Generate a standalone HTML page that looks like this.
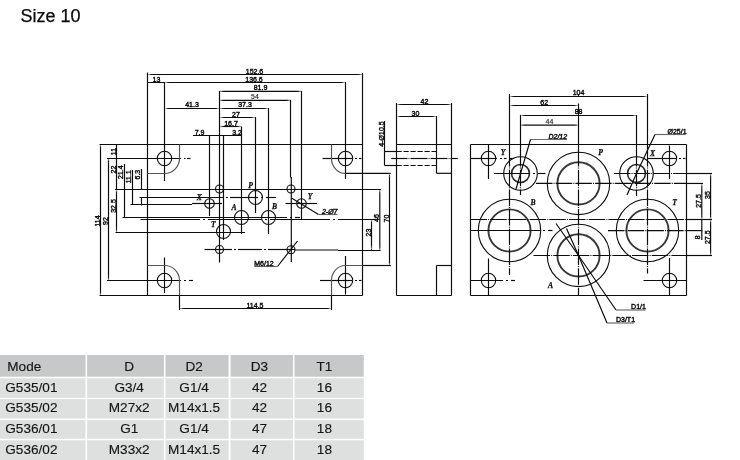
<!DOCTYPE html>
<html><head><meta charset="utf-8"><title>Size 10</title>
<style>
html,body{margin:0;padding:0;background:#fff}
body{width:740px;height:460px;position:relative;overflow:hidden;font-family:"Liberation Sans",sans-serif;color:#1a1a1a}
.ttl{position:absolute;left:20.5px;top:6px;font-size:18px;line-height:20px;white-space:nowrap;color:#0a0a0a;filter:grayscale(1);-webkit-text-stroke:.25px #0a0a0a}
svg{position:absolute;left:0;top:0}
svg.fg{filter:grayscale(1)}
svg path,svg circle{fill:none;stroke:#0c0c0c;stroke-width:1.18}
svg circle{stroke-width:1.1}
svg .tk{stroke-width:1.9;stroke:#383838}
svg .tk2{stroke-width:1.6;stroke:#2c2c2c}
svg .cl{stroke-dasharray:16.5 1.1 1 1.1}
svg .ds{stroke-dasharray:5.2 1.8}
svg .it{font-style:italic}
svg .sm{font-size:6.6px}
svg text{font-family:"Liberation Sans",sans-serif;fill:#111;stroke:none}
svg .t{font-size:7px;stroke:#0c0c0c;stroke-width:.42}
svg .g{stroke:#555}
svg .g2{stroke:#6a6a6a}
svg .w{stroke-width:1.4}
svg .th{stroke-width:.12;fill:#222}
svg .ar{fill:#111;stroke:none}
svg .wh{stroke:#fff;stroke-width:1.7}
svg .tb{font-size:13.6px;fill:#161616;stroke:#161616;stroke-width:.15}
svg .lb{font-family:"Liberation Serif",serif;font-style:italic;font-weight:bold;font-size:7.6px;stroke:#0c0c0c;stroke-width:.25}
.c{position:absolute}
.x{position:absolute;font-size:13.5px;line-height:16px;white-space:nowrap;color:#1a1a1a}
.x.m{width:100px;text-align:center}
</style></head><body>
<div class="ttl">Size 10</div>
<svg class="bg" width="740" height="460" viewBox="0 0 740 460">
<rect x="0" y="355" width="85.5" height="21.7" fill="#c7c8ca"/>
<rect x="87.1" y="355" width="76.8" height="21.7" fill="#c7c8ca"/>
<rect x="165.5" y="355" width="63.1" height="21.7" fill="#c7c8ca"/>
<rect x="230.6" y="355" width="62.4" height="21.7" fill="#c7c8ca"/>
<rect x="294.5" y="355" width="69.25" height="21.7" fill="#c7c8ca"/>
<rect x="0" y="378.3" width="85.5" height="19.6" fill="#dedfdf"/>
<rect x="87.1" y="378.3" width="76.8" height="19.6" fill="#dedfdf"/>
<rect x="165.5" y="378.3" width="63.1" height="19.6" fill="#dedfdf"/>
<rect x="230.6" y="378.3" width="62.4" height="19.6" fill="#dedfdf"/>
<rect x="294.5" y="378.3" width="69.25" height="19.6" fill="#dedfdf"/>
<rect x="0" y="399.1" width="85.5" height="19.4" fill="#dedfdf"/>
<rect x="87.1" y="399.1" width="76.8" height="19.4" fill="#dedfdf"/>
<rect x="165.5" y="399.1" width="63.1" height="19.4" fill="#dedfdf"/>
<rect x="230.6" y="399.1" width="62.4" height="19.4" fill="#dedfdf"/>
<rect x="294.5" y="399.1" width="69.25" height="19.4" fill="#dedfdf"/>
<rect x="0" y="420.2" width="85.5" height="18.6" fill="#dedfdf"/>
<rect x="87.1" y="420.2" width="76.8" height="18.6" fill="#dedfdf"/>
<rect x="165.5" y="420.2" width="63.1" height="18.6" fill="#dedfdf"/>
<rect x="230.6" y="420.2" width="62.4" height="18.6" fill="#dedfdf"/>
<rect x="294.5" y="420.2" width="69.25" height="18.6" fill="#dedfdf"/>
<rect x="0" y="440.3" width="85.5" height="19.7" fill="#dedfdf"/>
<rect x="87.1" y="440.3" width="76.8" height="19.7" fill="#dedfdf"/>
<rect x="165.5" y="440.3" width="63.1" height="19.7" fill="#dedfdf"/>
<rect x="230.6" y="440.3" width="62.4" height="19.7" fill="#dedfdf"/>
<rect x="294.5" y="440.3" width="69.25" height="19.7" fill="#dedfdf"/>
</svg>
<svg class="fg" width="740" height="460" viewBox="0 0 740 460">
<path d="M99.5 144.5L362.5 144.5"/>
<path d="M99.5 295.5L362.5 295.5"/>
<path d="M147.5 72.5L147.5 295.5"/>
<path d="M362.5 73L362.5 295.5"/>
<path d="M164.5 82L164.5 181"/>
<path d="M164.5 257.5L164.5 293"/>
<path d="M209.5 135.5L209.5 216"/>
<path d="M219.5 91L219.5 262.5"/>
<path d="M223.5 135.5L223.5 240"/>
<path d="M241.5 127L241.5 234"/>
<path d="M255.5 117L255.5 213"/>
<path d="M268.5 108L268.5 234"/>
<path d="M290.5 100L290.5 177.5"/>
<path d="M291.3 177L291.3 262"/>
<path d="M301.5 91L301.5 219.5"/>
<path d="M345.5 82L345.5 179"/>
<path d="M345.5 256L345.5 294.5"/>
<path d="M147.5 74.5L362.5 74.5"/>
<path d="M147.5 82.5L345.5 82.5"/>
<path d="M219.5 91.3L301.5 91.3"/>
<path d="M219.5 100.3L290.5 100.3"/>
<path d="M164.5 108.5L268.5 108.5"/>
<path d="M219.5 117.5L255.5 117.5"/>
<path d="M219.5 126.5L241.5 126.5"/>
<path d="M193 135.5L241.5 135.5"/>
<text class="t" x="254.5" y="73.5" text-anchor="middle">152.6</text>
<text class="t" x="254" y="81.5" text-anchor="middle">136.6</text>
<text class="t" x="156.5" y="81.5" text-anchor="middle">13</text>
<text class="t" x="260.5" y="90.3" text-anchor="middle">81.9</text>
<text class="t th" x="255" y="99.2" text-anchor="middle">54</text>
<text class="t" x="192" y="107.4" text-anchor="middle">41.3</text>
<text class="t" x="245" y="107.4" text-anchor="middle">37.3</text>
<text class="t" x="236" y="116.5" text-anchor="middle">27</text>
<text class="t" x="231" y="125.5" text-anchor="middle">16.7</text>
<text class="t" x="199.5" y="134.5" text-anchor="middle">7.9</text>
<text class="t" x="237" y="134.5" text-anchor="middle">3.2</text>
<path d="M100.5 144.5L100.5 295.5"/>
<path d="M108.5 158L108.5 280.5"/>
<path d="M116.5 144.5L116.5 232.5"/>
<path d="M124.5 164L124.5 217.5"/>
<path d="M132.5 170L132.5 204.5"/>
<path d="M141.5 169L141.5 189.5"/>
<path d="M141.5 197.5L141.5 205.5"/>
<text class="t" x="99.5" y="221" text-anchor="middle" transform="rotate(-90 99.5 221)">114</text>
<text class="t" x="107.5" y="221" text-anchor="middle" transform="rotate(-90 107.5 221)">92</text>
<text class="t" x="115.5" y="151.5" text-anchor="middle" transform="rotate(-90 115.5 151.5)">11</text>
<text class="t" x="115.5" y="169.5" text-anchor="middle" transform="rotate(-90 115.5 169.5)">22</text>
<text class="t" x="115.5" y="206" text-anchor="middle" transform="rotate(-90 115.5 206)">32.5</text>
<text class="t" x="123.5" y="172.2" text-anchor="middle" transform="rotate(-90 123.5 172.2)">21.4</text>
<text class="t" x="131.5" y="176.7" text-anchor="middle" transform="rotate(-90 131.5 176.7)">11.1</text>
<text class="t" x="140.5" y="174.6" text-anchor="middle" transform="rotate(-90 140.5 174.6)">6.3</text>
<path d="M107 158.5L181 158.5"/>
<path d="M184 158.5L185.5 158.5"/>
<path d="M187 158.5L190.5 158.5"/>
<path d="M115 189.5L381 189.5"/>
<path d="M139.5 197.5L224 197.5"/>
<path d="M226 197.5L228 197.5"/>
<path d="M230 197.5L258 197.5"/>
<path d="M261 197.5L263 197.5"/>
<path d="M266 197.5L276 197.5"/>
<path d="M130.5 204.5L192 204.5"/>
<path d="M192 203.5L222 203.5"/>
<path d="M285.5 203.5L317 203.5"/>
<path d="M122.5 217.5L287 217.5"/>
<path d="M290 217.5L292 217.5"/>
<path d="M295 217.5L300 217.5"/>
<path d="M140.5 219.5L200 219.5"/>
<path d="M203 219.5L205 219.5"/>
<path d="M208 219.5L262 219.5"/>
<path d="M265 219.5L267 219.5"/>
<path d="M270 219.5L330 219.5"/>
<path d="M333 219.5L335 219.5"/>
<path d="M338 219.5L375 219.5"/>
<path d="M115.5 232.5L245 232.5"/>
<path d="M204.5 249.5L232 249.5"/>
<path d="M234 249.5L236 249.5"/>
<path d="M238 249.5L262 249.5"/>
<path d="M264 249.5L266 249.5"/>
<path d="M268 249.5L295 249.5"/>
<path d="M295 250L338 250"/>
<path d="M338 250.5L380.5 250.5"/>
<path d="M345.5 173.4L390.8 173.4"/>
<path d="M362.5 265.5L390.8 265.5"/>
<path d="M107 280.5L181 280.5"/>
<path d="M184 280.5L186 280.5"/>
<path d="M189 280.5L193 280.5"/>
<path d="M320 280.5L352 280.5"/>
<path d="M355 280.5L357 280.5"/>
<path d="M359 280.5L361.5 280.5"/>
<path d="M322.5 158.5L352 158.5"/>
<path d="M355 158.5L357 158.5"/>
<path d="M359 158.5L361.5 158.5"/>
<path d="M371.5 220.5L371.5 250.5"/>
<path d="M379.8 189.5L379.8 250.5"/>
<path d="M389.5 173.4L389.5 265.5"/>
<text class="t" x="370.5" y="232.5" text-anchor="middle" transform="rotate(-90 370.5 232.5)">23</text>
<text class="t" x="379" y="218" text-anchor="middle" transform="rotate(-90 379 218)">46</text>
<text class="t" x="388.5" y="218.5" text-anchor="middle" transform="rotate(-90 388.5 218.5)">70</text>
<path d="M179.5 308.5L331.5 308.5"/>
<path d="M179.5 295.5L179.5 310"/>
<path d="M331.5 295.5L331.5 310"/>
<text class="t" x="255" y="307.5" text-anchor="middle">114.5</text>
<path class="g" d="M179.5 144.5V158.5A15 15 0 0 1 164.5 173.5H147.5"/>
<path class="g" d="M147.5 265.5H164.5A15 15 0 0 1 179.5 280.5V295.5"/>
<path class="g" d="M331.5 144.5V158.5A14 14.9 0 0 0 345.5 173.4"/>
<path class="g" d="M362.5 265.5H345.5A14 15 0 0 0 331.5 280.5V295.5"/>
<circle cx="164.5" cy="158.5" r="7.2"/>
<circle cx="345.5" cy="158.5" r="7.2"/>
<circle cx="164.5" cy="280.5" r="7.2"/>
<circle cx="345.5" cy="280.5" r="7.2"/>
<circle cx="219.5" cy="189" r="4.0"/>
<circle cx="291" cy="189" r="4.0"/>
<circle cx="219.5" cy="249.5" r="4.0"/>
<circle cx="291" cy="249.8" r="4.0"/>
<circle cx="209.5" cy="203.5" r="4.8"/>
<circle cx="301.5" cy="203.5" r="4.75"/>
<circle cx="255.5" cy="197.5" r="7"/>
<circle cx="241.5" cy="217.5" r="7"/>
<circle cx="268.5" cy="217.5" r="7"/>
<circle cx="223.5" cy="231.5" r="7"/>
<text class="lb" x="199.3" y="200" text-anchor="middle">X</text>
<text class="lb" x="250.6" y="187.6" text-anchor="middle">P</text>
<text class="lb" x="234.1" y="209.5" text-anchor="middle">A</text>
<text class="lb" x="274.6" y="209.2" text-anchor="middle">B</text>
<text class="lb" x="213.4" y="227.1" text-anchor="middle">T</text>
<text class="lb" x="310" y="199.2" text-anchor="middle">Y</text>
<path d="M291.5 198L318.5 214.5"/>
<path class="g2" d="M318.5 214.5H337.5"/>
<text class="t it sm" x="329.7" y="213.6" text-anchor="middle">2-Ø7</text>
<path d="M297.5 241L277.5 266.5"/>
<path class="g2" d="M277.5 266.5H254.5"/>
<text class="t" x="264" y="265.8" text-anchor="middle">M6/12</text>
<path d="M396.5 144.5L451.5 144.5"/>
<path d="M396.5 295.5L451.5 295.5"/>
<path d="M396.5 103L396.5 295.5"/>
<path d="M451.5 103L451.5 295.5"/>
<path d="M436.5 116L436.5 173.3"/>
<path d="M436.5 265.5L436.5 295.5"/>
<path d="M396.5 104.5L451.5 104.5"/>
<path d="M396.5 116.5L436.5 116.5"/>
<path d="M436.5 173.3L451.5 173.3"/>
<path d="M436.5 265.5L451.5 265.5"/>
<path d="M384.5 151.5L396.5 151.5"/>
<path d="M384.5 165.5L396.5 165.5"/>
<path class="ds" d="M396.5 151.5L436.5 151.5"/>
<path class="ds" d="M396.5 165.5L436.5 165.5"/>
<path d="M391.2 158.5L407.5 158.5"/>
<path d="M408.5 158.5L409.5 158.5"/>
<path d="M410.5 158.5L427.5 158.5"/>
<path d="M428.5 158.5L429.5 158.5"/>
<path d="M430.5 158.5L447.5 158.5"/>
<path d="M448.5 158.5L449.5 158.5"/>
<path d="M450.5 158.5L457.8 158.5"/>
<path d="M384.5 121L384.5 165.5"/>
<text class="t" x="424.5" y="103.5" text-anchor="middle">42</text>
<text class="t" x="415.5" y="115.5" text-anchor="middle">30</text>
<text class="t" x="383.5" y="134" text-anchor="middle" transform="rotate(-90 383.5 134)">4-Ø10.5</text>
<path d="M470.5 144.5L686.5 144.5"/>
<path d="M470.5 295.5L686.5 295.5"/>
<path d="M470.5 144.5L470.5 295.5"/>
<path d="M686.5 144.5L686.5 295.5"/>
<circle cx="488.5" cy="158.5" r="7.2"/>
<circle cx="669.5" cy="158.5" r="7.2"/>
<circle cx="488.5" cy="280.5" r="7.2"/>
<circle cx="669.5" cy="280.5" r="7.2"/>
<circle cx="520.5" cy="173.5" r="16.8"/>
<circle class="tk2" cx="520.5" cy="173.5" r="8.95"/>
<circle cx="636.5" cy="173.5" r="16.8"/>
<circle class="tk2" cx="636.5" cy="173.5" r="8.95"/>
<circle cx="578.5" cy="183.4" r="31.2"/>
<circle class="tk" cx="578.5" cy="183.4" r="21.1"/>
<circle cx="509.5" cy="230.5" r="31.2"/>
<circle class="tk" cx="509.5" cy="230.5" r="21.1"/>
<circle cx="647.5" cy="230.5" r="31.2"/>
<circle class="tk" cx="647.5" cy="230.5" r="21.1"/>
<circle cx="578.5" cy="255.4" r="31.2"/>
<circle class="tk" cx="578.5" cy="255.4" r="21.1"/>
<path d="M509.5 94L509.5 150"/>
<path class="cl" d="M509.5 150L509.5 275"/>
<path d="M520.5 115L520.5 150"/>
<path class="cl" d="M520.5 150L520.5 195"/>
<path d="M578.5 103.5L578.5 150"/>
<path class="cl" d="M578.5 150L578.5 295.5"/>
<path d="M636.5 115L636.5 150"/>
<path class="cl" d="M636.5 150L636.5 196"/>
<path d="M647.5 94L647.5 150"/>
<path class="cl" d="M647.5 150L647.5 273.5"/>
<path d="M488.5 145L488.5 179"/>
<path d="M488.5 258.5L488.5 295.5"/>
<path d="M669.5 145.5L669.5 179"/>
<path d="M669.5 258L669.5 295.5"/>
<path d="M509.5 96.5L647.5 96.5"/>
<path d="M509.5 105.5L578.5 105.5"/>
<path d="M520.5 115.5L636.5 115.5"/>
<path d="M520.5 125.2L578.5 125.2"/>
<path d="M578.5 94.5L578.5 96.5"/>
<path d="M470.5 158.5L497 158.5"/>
<path d="M500 158.5L502 158.5"/>
<path d="M504 158.5L506.5 158.5"/>
<path d="M509 158.5L514 158.5"/>
<path d="M647.5 158.5L676 158.5"/>
<path d="M679 158.5L681 158.5"/>
<path d="M683 158.5L685.5 158.5"/>
<path d="M494 173.5L530 173.5"/>
<path d="M533 173.5L535 173.5"/>
<path d="M538 173.5L545.5 173.5"/>
<path class="cl" d="M614 173.5L686.5 173.5"/>
<path d="M686.5 173.5L712 173.5"/>
<path class="cl" d="M536 183.45L686.5 183.45"/>
<path d="M686.5 183.45L703 183.45"/>
<path class="cl" d="M470.5 219.5L686.5 219.5"/>
<path d="M686.5 219.5L712 219.5"/>
<path d="M470.5 230.5L540 230.5"/>
<path d="M543 230.5L545 230.5"/>
<path d="M548 230.5L552.5 230.5"/>
<path class="cl" d="M608 230.6L686.5 230.6"/>
<path d="M686.5 230.6L702.3 230.6"/>
<path class="cl" d="M533.5 255.5L686.5 255.5"/>
<path d="M686.5 255.5L712 255.5"/>
<path d="M470.5 280.5L503 280.5"/>
<path d="M506 280.5L508 280.5"/>
<path d="M511 280.5L515 280.5"/>
<path d="M643.5 280.5L686.5 280.5"/>
<path d="M710.6 173.5L710.6 255.5"/>
<path d="M701.8 183.5L701.8 240"/>
<text class="t" x="578.5" y="95.2" text-anchor="middle">104</text>
<text class="t" x="544.2" y="104.5" text-anchor="middle">62</text>
<text class="t" x="578.6" y="114.2" text-anchor="middle">88</text>
<text class="t th" x="549.4" y="123.8" text-anchor="middle">44</text>
<text class="t it" x="557.8" y="138.6" text-anchor="middle">D2/12</text>
<text class="t" x="677" y="133.5" text-anchor="middle">Ø25/1</text>
<text class="t" x="709.5" y="195" text-anchor="middle" transform="rotate(-90 709.5 195)">35</text>
<text class="t" x="701" y="201" text-anchor="middle" transform="rotate(-90 701 201)">27.5</text>
<text class="t" x="709.6" y="237.2" text-anchor="middle" transform="rotate(-90 709.6 237.2)">27.5</text>
<text class="t" x="700.4" y="237.3" text-anchor="middle" transform="rotate(-90 700.4 237.3)">8</text>
<text class="t" x="638.5" y="309" text-anchor="middle">D1/1</text>
<text class="t" x="625.5" y="322" text-anchor="middle">D3/T1</text>
<text class="lb" x="503" y="155" text-anchor="middle">Y</text>
<text class="lb" x="600.5" y="155" text-anchor="middle">P</text>
<text class="lb" x="652.5" y="156" text-anchor="middle">X</text>
<text class="lb" x="533" y="204.5" text-anchor="middle">B</text>
<text class="lb" x="674.5" y="204.5" text-anchor="middle">T</text>
<text class="lb" x="550.5" y="288" text-anchor="middle">A</text>
<path class="g2" d="M567 139.5H530.5"/>
<path d="M530.5 139.5L516 189"/>
<path class="g2" d="M685.5 134.5H655"/>
<path d="M655 134.5L636.5 173.5L627 195"/>
<path d="M556 223.5L578.5 255.5L616 310"/>
<path class="g2" d="M616 310H645.5"/>
<path d="M566.5 228.5L578.5 255.5L607 323"/>
<path class="g2" d="M607 323H634"/>
<path class="wh" d="M148.25 74.5H151.1"/>
<path class="ar" d="M147.8 74.5L151.1 73.88L151.1 75.12Z"/>
<path class="wh" d="M361.75 74.5H358.9"/>
<path class="ar" d="M362.2 74.5L358.9 73.88L358.9 75.12Z"/>
<path class="wh" d="M165.25 82.5H168.1"/>
<path class="ar" d="M164.8 82.5L168.1 81.88L168.1 83.12Z"/>
<path class="wh" d="M344.75 82.5H341.9"/>
<path class="ar" d="M345.2 82.5L341.9 81.88L341.9 83.12Z"/>
<path class="wh" d="M220.25 91.3H223.1"/>
<path class="ar" d="M219.8 91.3L223.1 90.67999999999999L223.1 91.92Z"/>
<path class="wh" d="M300.75 91.3H297.9"/>
<path class="ar" d="M301.2 91.3L297.9 90.67999999999999L297.9 91.92Z"/>
<path class="wh" d="M220.25 100.3H223.1"/>
<path class="ar" d="M219.8 100.3L223.1 99.67999999999999L223.1 100.92Z"/>
<path class="wh" d="M289.75 100.3H286.9"/>
<path class="ar" d="M290.2 100.3L286.9 99.67999999999999L286.9 100.92Z"/>
<path class="wh" d="M165.25 108.5H168.1"/>
<path class="ar" d="M164.8 108.5L168.1 107.88L168.1 109.12Z"/>
<path class="wh" d="M218.75 108.5H215.9"/>
<path class="ar" d="M219.2 108.5L215.9 107.88L215.9 109.12Z"/>
<path class="wh" d="M220.25 108.5H223.1"/>
<path class="ar" d="M219.8 108.5L223.1 107.88L223.1 109.12Z"/>
<path class="wh" d="M267.75 108.5H264.9"/>
<path class="ar" d="M268.2 108.5L264.9 107.88L264.9 109.12Z"/>
<path class="wh" d="M220.25 117.5H223.1"/>
<path class="ar" d="M219.8 117.5L223.1 116.88L223.1 118.12Z"/>
<path class="wh" d="M254.75 117.5H251.9"/>
<path class="ar" d="M255.2 117.5L251.9 116.88L251.9 118.12Z"/>
<path class="wh" d="M220.25 126.5H223.1"/>
<path class="ar" d="M219.8 126.5L223.1 125.88L223.1 127.12Z"/>
<path class="wh" d="M240.75 126.5H237.9"/>
<path class="ar" d="M241.2 126.5L237.9 125.88L237.9 127.12Z"/>
<path class="wh" d="M180.25 308.5H183.1"/>
<path class="ar" d="M179.8 308.5L183.1 307.88L183.1 309.12Z"/>
<path class="wh" d="M330.75 308.5H327.9"/>
<path class="ar" d="M331.2 308.5L327.9 307.88L327.9 309.12Z"/>
<path class="wh" d="M100.5 145.25V148.1"/>
<path class="ar" d="M100.5 144.8L99.88 148.1L101.12 148.1Z"/>
<path class="wh" d="M100.5 294.75V291.9"/>
<path class="ar" d="M100.5 295.2L99.88 291.9L101.12 291.9Z"/>
<path class="wh" d="M108.5 159.25V162.1"/>
<path class="ar" d="M108.5 158.8L107.88 162.1L109.12 162.1Z"/>
<path class="wh" d="M108.5 279.75V276.9"/>
<path class="ar" d="M108.5 280.2L107.88 276.9L109.12 276.9Z"/>
<path class="wh" d="M116.5 190.25V193.1"/>
<path class="ar" d="M116.5 189.8L115.88 193.1L117.12 193.1Z"/>
<path class="wh" d="M116.5 231.75V228.9"/>
<path class="ar" d="M116.5 232.2L115.88 228.9L117.12 228.9Z"/>
<path class="wh" d="M371.5 220.25V223.1"/>
<path class="ar" d="M371.5 219.8L370.88 223.1L372.12 223.1Z"/>
<path class="wh" d="M371.5 249.25V246.4"/>
<path class="ar" d="M371.5 249.7L370.88 246.4L372.12 246.4Z"/>
<path class="wh" d="M379.8 190.25V193.1"/>
<path class="ar" d="M379.8 189.8L379.18 193.1L380.42 193.1Z"/>
<path class="wh" d="M379.8 249.75V246.9"/>
<path class="ar" d="M379.8 250.2L379.18 246.9L380.42 246.9Z"/>
<path class="wh" d="M389.5 173.75V176.6"/>
<path class="ar" d="M389.5 173.3L388.88 176.6L390.12 176.6Z"/>
<path class="wh" d="M389.5 264.75V261.9"/>
<path class="ar" d="M389.5 265.2L388.88 261.9L390.12 261.9Z"/>
<path class="wh" d="M397.25 104.5H400.1"/>
<path class="ar" d="M396.8 104.5L400.1 103.88L400.1 105.12Z"/>
<path class="wh" d="M450.75 104.5H447.9"/>
<path class="ar" d="M451.2 104.5L447.9 103.88L447.9 105.12Z"/>
<path class="wh" d="M397.25 116.5H400.1"/>
<path class="ar" d="M396.8 116.5L400.1 115.88L400.1 117.12Z"/>
<path class="wh" d="M435.75 116.5H432.9"/>
<path class="ar" d="M436.2 116.5L432.9 115.88L432.9 117.12Z"/>
<path class="wh" d="M510.25 96.5H513.1"/>
<path class="ar" d="M509.8 96.5L513.1 95.88L513.1 97.12Z"/>
<path class="wh" d="M646.75 96.5H643.9"/>
<path class="ar" d="M647.2 96.5L643.9 95.88L643.9 97.12Z"/>
<path class="wh" d="M510.25 105.5H513.1"/>
<path class="ar" d="M509.8 105.5L513.1 104.88L513.1 106.12Z"/>
<path class="wh" d="M577.75 105.5H574.9"/>
<path class="ar" d="M578.2 105.5L574.9 104.88L574.9 106.12Z"/>
<path class="wh" d="M521.25 115.5H524.1"/>
<path class="ar" d="M520.8 115.5L524.1 114.88L524.1 116.12Z"/>
<path class="wh" d="M635.75 115.5H632.9"/>
<path class="ar" d="M636.2 115.5L632.9 114.88L632.9 116.12Z"/>
<path class="wh" d="M521.25 125.2H524.1"/>
<path class="ar" d="M520.8 125.2L524.1 124.58L524.1 125.82000000000001Z"/>
<path class="wh" d="M577.75 125.2H574.9"/>
<path class="ar" d="M578.2 125.2L574.9 124.58L574.9 125.82000000000001Z"/>
<path class="wh" d="M710.6 174.25V177.1"/>
<path class="ar" d="M710.6 173.8L709.98 177.1L711.22 177.1Z"/>
<path class="wh" d="M710.6 218.75V215.9"/>
<path class="ar" d="M710.6 219.2L709.98 215.9L711.22 215.9Z"/>
<path class="wh" d="M710.6 220.25V223.1"/>
<path class="ar" d="M710.6 219.8L709.98 223.1L711.22 223.1Z"/>
<path class="wh" d="M710.6 254.75V251.9"/>
<path class="ar" d="M710.6 255.2L709.98 251.9L711.22 251.9Z"/>
<path class="wh" d="M701.8 184.25V187.1"/>
<path class="ar" d="M701.8 183.8L701.18 187.1L702.42 187.1Z"/>
<path class="wh" d="M701.8 218.75V215.9"/>
<path class="ar" d="M701.8 219.2L701.18 215.9L702.42 215.9Z"/>
<text class="tb" x="7.3" y="370.9">Mode</text>
<text class="tb" x="129.2" y="370.9" text-anchor="middle">D</text>
<text class="tb" x="194.1" y="370.9" text-anchor="middle">D2</text>
<text class="tb" x="259.5" y="370.9" text-anchor="middle">D3</text>
<text class="tb" x="324.4" y="370.9" text-anchor="middle">T1</text>
<text class="tb" x="5.3" y="392.25">G535/01</text>
<text class="tb" x="129.2" y="392.25" text-anchor="middle">G3/4</text>
<text class="tb" x="194.1" y="392.25" text-anchor="middle">G1/4</text>
<text class="tb" x="259.5" y="392.25" text-anchor="middle">42</text>
<text class="tb" x="324.4" y="392.25" text-anchor="middle">16</text>
<text class="tb" x="5.3" y="412.4">G535/02</text>
<text class="tb" x="129.2" y="412.4" text-anchor="middle">M27x2</text>
<text class="tb" x="194.1" y="412.4" text-anchor="middle">M14x1.5</text>
<text class="tb" x="259.5" y="412.4" text-anchor="middle">42</text>
<text class="tb" x="324.4" y="412.4" text-anchor="middle">16</text>
<text class="tb" x="5.3" y="432.75">G536/01</text>
<text class="tb" x="129.2" y="432.75" text-anchor="middle">G1</text>
<text class="tb" x="194.1" y="432.75" text-anchor="middle">G1/4</text>
<text class="tb" x="259.5" y="432.75" text-anchor="middle">47</text>
<text class="tb" x="324.4" y="432.75" text-anchor="middle">18</text>
<text class="tb" x="5.3" y="454">G536/02</text>
<text class="tb" x="129.2" y="454" text-anchor="middle">M33x2</text>
<text class="tb" x="194.1" y="454" text-anchor="middle">M14x1.5</text>
<text class="tb" x="259.5" y="454" text-anchor="middle">47</text>
<text class="tb" x="324.4" y="454" text-anchor="middle">18</text>
</svg>
</body></html>
